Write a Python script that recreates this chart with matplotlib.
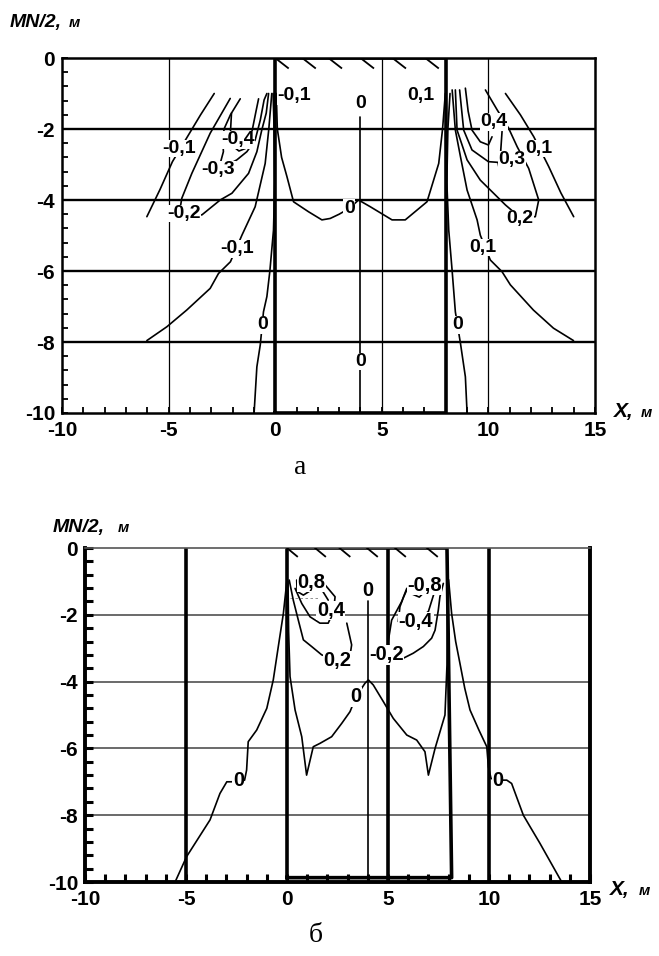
import numpy as np
import matplotlib
matplotlib.use( 'Agg' )
from matplotlib import pyplot as plt

plt.rcParams['font.family'] = ['Liberation Sans', 'DejaVu Sans']
plt.rcParams['font.weight'] = 'bold'
plt.rcParams['axes.unicode_minus'] = False

W_, H_ = 659, 956

x_major_ticks = [-10, -5, 0, 5, 10, 15]
y_major_ticks = [0, -2, -4, -6, -8, -10]

# ---------------- panel "а" ----------------
a_hgrid = [-2, -4, -6, -8]
a_vgrid = [-5, 5, 10]
a_box_x = [0, 0, 8, 8, 0]
a_box_y = [-10, 0, 0, -10, -10]
a_hatch_x = [0, 1.27, 2.5, 4.0, 5.5, 7.04]

# negative side
a_m01_out_x = [-2.86, -3.5, -4.07, -4.82, -5.4, -6.02]
a_m01_out_y = [-1.0, -1.6, -2.17, -2.92, -3.7, -4.47]
a_m01_in_x = [-0.16, -0.3, -0.47, -0.94, -1.56, -2.1, -2.66, -3.05, -4.15, -5.08, -6.02]
a_m01_in_y = [-1.0, -2.0, -2.97, -4.19, -4.99, -5.74, -6.07, -6.49, -7.1, -7.57, -7.96]
a_m02_x = [-0.31, -0.42, -0.63, -0.86, -1.25, -2.03, -2.58, -3.44, -4.3, -4.45, -4.38, -3.91, -3.05, -2.11]
a_m02_y = [-1.0, -1.55, -2.03, -2.64, -3.25, -3.81, -4.0, -4.42, -4.4, -4.2, -3.95, -3.25, -2.12, -1.14]
a_m03_x = [-1.64, -2.1, -2.4, -2.45, -2.43, -2.66, -1.8, -1.33, -0.94, -0.7, -0.52, -0.39]
a_m03_y = [-1.15, -1.6, -2.0, -2.4, -2.64, -3.15, -2.87, -2.64, -2.31, -1.75, -1.18, -1.0]
a_m04_x = [-2.05, -2.1, -1.95, -1.7, -1.4, -1.1, -0.9, -0.78]
a_m04_y = [-1.55, -2.1, -2.5, -2.62, -2.55, -2.1, -1.5, -1.15]

# zero lines
a_z_left_x = [-0.1, -0.05, -0.02, -0.08, -0.25, -0.39, -0.55, -0.7, -0.86, -0.99]
a_z_left_y = [-1.0, -2.0, -3.5, -4.85, -6.0, -6.72, -7.15, -8.08, -8.7, -10.0]
a_z_right_x = [8.2, 8.1, 8.05, 8.14, 8.3, 8.45, 8.69, 8.92, 9.0]
a_z_right_y = [-1.0, -2.0, -3.5, -4.85, -6.0, -7.15, -8.04, -8.98, -10.0]
a_z_dome_x = [0.05, 0.1, 0.3, 0.55, 0.86, 1.56, 2.19, 2.58, 3.0, 3.49, 3.91, 4.46, 5.48, 6.1, 7.12, 7.67, 7.85, 7.98]
a_z_dome_y = [-1.0, -2.0, -2.8, -3.34, -4.05, -4.33, -4.56, -4.52, -4.4, -4.23, -4.0, -4.19, -4.56, -4.56, -4.05, -2.97, -2.0, -1.0]
a_z_mid_x = [4.0, 4.0]
a_z_mid_y = [-1.65, -10.0]

# positive side
a_p01_out_x = [10.8, 11.5, 12.13, 12.83, 13.4, 14.0]
a_p01_out_y = [-1.0, -1.6, -2.22, -3.06, -3.8, -4.47]
a_p01_in_x = [8.3, 8.45, 8.69, 9.0, 9.47, 9.62, 10.09, 10.64, 11.03, 12.11, 13.05, 13.99]
a_p01_in_y = [-0.9, -2.03, -2.78, -3.72, -4.56, -4.99, -5.69, -6.02, -6.39, -7.1, -7.61, -7.96]
a_p02_x = [8.45, 8.53, 9.0, 9.62, 10.8, 11.5, 12.2, 12.36, 11.89, 11.35, 10.95, 10.41, 9.86]
a_p02_y = [-0.9, -2.03, -2.87, -3.44, -4.14, -4.5, -4.47, -4.0, -3.11, -2.5, -1.98, -1.46, -0.9]
a_p03_x = [8.65, 8.84, 9.23, 10.0, 10.45, 10.5, 10.58, 10.64]
a_p03_y = [-0.9, -2.03, -2.59, -2.92, -2.94, -3.1, -2.6, -2.07]
a_p04_x = [8.92, 9.05, 9.23, 9.62, 10.0, 10.17]
a_p04_y = [-0.85, -1.5, -2.03, -2.36, -2.45, -2.22]

a_lab_text = ['-0,1', '0', '0,1', '-0,1', '-0,4', '-0,3', '-0,2', '-0,1', '0', '0', '0',
              '0,4', '0,1', '0,3', '0,2', '0,1', '0']
a_lab_x = [0.9, 4.0, 6.84, -4.5, -1.75, -2.66, -4.3, -1.8, -0.59, 3.47, 4.0,
           10.25, 12.37, 11.1, 11.47, 9.74, 8.57]
a_lab_y = [-1.06, -1.28, -1.06, -2.55, -2.3, -3.15, -4.38, -5.38, -7.52, -4.23, -8.55,
           -1.8, -2.55, -2.87, -4.52, -5.34, -7.52]

# ---------------- panel "б" ----------------
b_hgrid = [-2, -4, -6, -8]
b_vgrid = [-5, 5, 10]
b_box_x = [0, 0, 7.92, 8.15, 0]
b_box_y = [-9.87, 0, 0, -9.87, -9.87]
b_hatch_x = [0, 1.39, 2.6, 3.96, 5.35, 6.93]

b_z_left_x = [0.0, -0.18, -0.43, -0.68, -1.0, -1.5, -1.92, -2.0, -2.1, -2.75, -2.98, -3.32, -3.81, -4.97, -5.54]
b_z_left_y = [-0.95, -1.96, -2.95, -3.95, -4.8, -5.45, -5.8, -6.65, -6.95, -7.0, -7.0, -7.35, -8.14, -9.24, -10.0]
b_z_right_x = [8.0, 8.15, 8.35, 8.56, 8.8, 9.06, 9.5, 9.89, 9.97, 10.1, 10.4, 10.88, 11.12, 11.7, 12.03, 12.52, 13.6]
b_z_right_y = [-0.95, -1.96, -2.8, -3.45, -4.2, -4.85, -5.45, -5.95, -6.55, -6.9, -6.95, -6.95, -7.05, -8.0, -8.34, -8.84, -10.0]
b_z_mid_x = [0.05, 0.08, 0.15, 0.4, 0.73, 0.97, 1.3, 1.63, 2.21, 2.71, 3.12, 3.42, 3.86, 4.03, 4.27,
             4.77, 5.26, 5.93, 6.42, 6.83, 7.0, 7.33, 7.82, 7.92, 7.95]
b_z_mid_y = [-1.0, -2.5, -3.85, -4.85, -5.65, -6.8, -5.95, -5.85, -5.65, -5.25, -4.9, -4.45, -4.05, -3.95, -4.1,
             -4.6, -5.1, -5.6, -5.75, -6.1, -6.8, -6.0, -5.0, -3.5, -1.0]
b_z_vert_x = [4.0, 4.0]
b_z_vert_y = [-1.6, -10.0]

b_p02_x = [0.11, 0.31, 0.56, 0.81, 1.22, 1.72, 2.5, 3.15, 3.2, 2.96]
b_p02_y = [-0.96, -1.56, -2.16, -2.75, -2.95, -3.2, -3.35, -3.1, -2.9, -2.25]
b_p04_x = [0.4, 0.73, 1.14, 1.63, 2.04, 2.3, 2.38, 1.88]
b_p04_y = [-1.21, -1.66, -2.06, -2.25, -2.25, -1.9, -1.46, -1.1]
b_p08_x = [0.48, 0.5, 0.81, 1.1, 1.5, 1.63, 2.04]
b_p08_y = [-0.96, -1.3, -1.41, -1.3, -1.1, -1.16, -1.56]
b_m02_x = [5.93, 5.68, 5.18, 5.01, 4.95, 5.76, 6.25, 6.75, 7.16, 7.33, 7.49, 7.57, 7.74]
b_m02_y = [-1.21, -1.6, -2.16, -2.8, -3.2, -3.3, -3.15, -2.95, -2.7, -2.46, -1.86, -1.46, -1.06]
b_m04_x = [6.0, 5.75, 5.59, 5.51, 6.35, 7.0, 7.33]
b_m04_y = [-1.16, -1.5, -1.76, -2.2, -2.2, -1.9, -1.26]
b_m08_x = [6.05, 6.2, 6.55, 6.75, 6.8]
b_m08_y = [-1.0, -1.38, -1.47, -1.35, -1.15]
b_dash_x = [0.15, 1.63]
b_dash_y = [-1.5, -1.5]

b_lab_text = ['0,8', '0,4', '0,2', '0', '-0,2', '-0,8', '-0,4', '0', '0', '0']
b_lab_x = [1.22, 2.17, 2.5, 3.98, 4.93, 6.8, 6.38, 3.41, -2.41, 10.42]
b_lab_y = [-1.03, -1.87, -3.37, -1.27, -3.2, -1.12, -2.2, -4.45, -6.95, -6.95]


def f_px( x_ia, y_ia ):
    # pixel position -> figure fraction
    return x_ia / W_, 1 - y_ia / H_


def f_setup_axes( ax_ia, tick_lw_ia, tick_len_ia ):
    ax_ia.set_xlim( -10, 15 )
    ax_ia.set_ylim( -10, 0 )
    ax_ia.set_xticks( x_major_ticks )
    ax_ia.set_xticks( np.arange( -10, 15.01, 1 ), minor = True )
    ax_ia.set_yticks( y_major_ticks )
    ax_ia.set_yticks( np.arange( -10, 0.01, 0.4 ), minor = True )
    ax_ia.set_xticklabels( [str( v ) for v in x_major_ticks] )
    ax_ia.set_yticklabels( [str( v ) for v in y_major_ticks] )
    ax_ia.tick_params( which = 'both', direction = 'in', width = tick_lw_ia,
                       length = tick_len_ia, top = False, right = False, labelsize = 15 )
    ax_ia.tick_params( axis = 'x', pad = 6 )
    ax_ia.tick_params( axis = 'y', pad = 5 )


def f_draw_lines( ax_ia, lines_ia, lw_ia ):
    for x_, y_ in lines_ia:
        ax_ia.plot( x_, y_, color = 'black', lw = lw_ia, zorder = 3,
                    solid_joinstyle = 'round', solid_capstyle = 'round' )


def f_draw_labels( ax_ia, text_ia, x_ia, y_ia, size_ia ):
    for t_, x_, y_ in zip( text_ia, x_ia, y_ia ):
        ax_ia.text( x_, y_, t_, ha = 'center', va = 'center', fontsize = size_ia,
                    fontweight = 'bold', zorder = 6,
                    bbox = dict( facecolor = 'white', edgecolor = 'none', pad = 0.3 ) )


def f_draw_hatch( ax_ia, xs_ia, dx_ia, dy_ia, lw_ia ):
    for x_ in xs_ia:
        ax_ia.plot( [x_, x_ + dx_ia], [0, -dy_ia], color = 'black', lw = lw_ia, zorder = 3 )


def f_axis_titles( fig_ia, mn_xy_ia, m1_x_ia, x_xy_ia, m2_x_ia ):
    fig_ia.text( *f_px( *mn_xy_ia ), 'MN/2,', fontsize = 14, style = 'italic',
                 fontweight = 'bold', va = 'baseline' )
    fig_ia.text( *f_px( m1_x_ia, mn_xy_ia[1] ), 'м', fontsize = 11, style = 'italic',
                 fontweight = 'bold', va = 'baseline' )
    fig_ia.text( *f_px( *x_xy_ia ), 'X,', fontsize = 15, style = 'italic',
                 fontweight = 'bold', va = 'baseline' )
    fig_ia.text( *f_px( m2_x_ia, x_xy_ia[1] ), 'м', fontsize = 11, style = 'italic',
                 fontweight = 'bold', va = 'baseline' )


fig = plt.figure( figsize = ( W_ / 100, H_ / 100 ), dpi = 100 )

# ---- panel а
ax_a = fig.add_axes( [62 / W_, 1 - 413 / H_, ( 595 - 62 ) / W_, ( 413 - 58 ) / H_] )
f_setup_axes( ax_a, 1.3, 4 )
for s_ in ax_a.spines.values():
    s_.set_linewidth( 1.8 )
for y_ in a_hgrid:
    ax_a.axhline( y_, color = 'black', lw = 1.7, zorder = 1 )
for x_ in a_vgrid:
    ax_a.axvline( x_, color = 'black', lw = 0.9, zorder = 1 )
ax_a.plot( a_box_x, a_box_y, color = 'black', lw = 2.6, zorder = 2 )
f_draw_hatch( ax_a, a_hatch_x, 0.6, 0.28, 1.3 )
f_draw_lines( ax_a, [( a_m01_out_x, a_m01_out_y ), ( a_m01_in_x, a_m01_in_y ),
                     ( a_m02_x, a_m02_y ), ( a_m03_x, a_m03_y ), ( a_m04_x, a_m04_y ),
                     ( a_z_left_x, a_z_left_y ), ( a_z_right_x, a_z_right_y ),
                     ( a_z_dome_x, a_z_dome_y ), ( a_z_mid_x, a_z_mid_y ),
                     ( a_p01_out_x, a_p01_out_y ), ( a_p01_in_x, a_p01_in_y ),
                     ( a_p02_x, a_p02_y ), ( a_p03_x, a_p03_y ), ( a_p04_x, a_p04_y )], 1.2 )
f_draw_labels( ax_a, a_lab_text, a_lab_x, a_lab_y, 14 )
f_axis_titles( fig, ( 10, 27 ), 69, ( 614, 417 ), 641 )
fig.text( *f_px( 300, 468 ), 'а', fontsize = 20, family = 'Liberation Serif',
          fontweight = 'normal', ha = 'center', va = 'center' )

# ---- panel б
ax_b = fig.add_axes( [85 / W_, 1 - 882 / H_, ( 590 - 85 ) / W_, ( 882 - 548 ) / H_] )
f_setup_axes( ax_b, 2.2, 6 )
for k_ in ['left', 'bottom', 'right']:
    ax_b.spines[k_].set_linewidth( 2.8 )
ax_b.spines['top'].set_linewidth( 1.2 )
ax_b.spines['top'].set_color( '#555555' )
for y_ in b_hgrid:
    ax_b.axhline( y_, color = '#505050', lw = 1.2, zorder = 1 )
for x_ in b_vgrid:
    ax_b.axvline( x_, color = 'black', lw = 2.6, zorder = 1 )
ax_b.plot( b_box_x, b_box_y, color = 'black', lw = 2.6, zorder = 2 )
f_draw_hatch( ax_b, b_hatch_x, 0.5, 0.25, 1.3 )
ax_b.plot( b_dash_x, b_dash_y, color = 'gray', lw = 0.6, ls = ( 0, ( 3, 3 ) ), zorder = 3 )
f_draw_lines( ax_b, [( b_z_left_x, b_z_left_y ), ( b_z_right_x, b_z_right_y ),
                     ( b_z_mid_x, b_z_mid_y ), ( b_z_vert_x, b_z_vert_y ),
                     ( b_p02_x, b_p02_y ), ( b_p04_x, b_p04_y ), ( b_p08_x, b_p08_y ),
                     ( b_m02_x, b_m02_y ), ( b_m04_x, b_m04_y ), ( b_m08_x, b_m08_y )], 1.2 )
f_draw_labels( ax_b, b_lab_text, b_lab_x, b_lab_y, 14.5 )
f_axis_titles( fig, ( 53, 532 ), 118, ( 610, 895 ), 639 )
fig.text( *f_px( 316, 936 ), 'б', fontsize = 20, family = 'Liberation Serif',
          fontweight = 'normal', ha = 'center', va = 'center' )

fig.savefig( 'out.png', dpi = 100 )
